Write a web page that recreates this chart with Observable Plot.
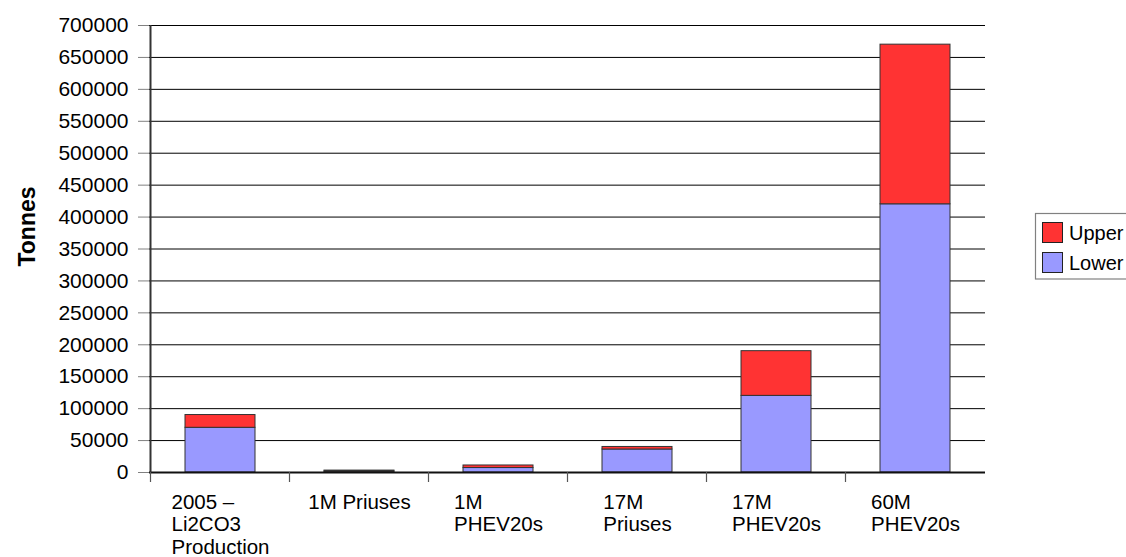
<!DOCTYPE html>
<html><head><meta charset="utf-8">
<script src="https://cdn.jsdelivr.net/npm/d3@7"></script>
<script src="https://cdn.jsdelivr.net/npm/@observablehq/plot@0.6"></script>
<style>body{margin:0;background:#fff;} svg{display:block}</style>
</head><body><div id="chart"></div>
<script>
const categories = ["2005 –\nLi2CO3\nProduction", "1M Priuses", "1M\nPHEV20s", "17M\nPriuses", "17M\nPHEV20s", "60M\nPHEV20s"];
const seriesNames = ["Upper", "Lower"];
const lowerValues = [70000, 1500, 7000, 36000, 120000, 420000];
const upperValues = [20000, 1500, 4000, 4000, 70000, 250000];
const yTicks = d3.range(0, 700001, 50000);
const seriesColors = ["#FF3333", "#9999FF"];
const yLabel = "Tonnes";

const rows = [];
categories.forEach((c, i) => {
  rows.push({category: c, series: "Lower", value: lowerValues[i]});
  rows.push({category: c, series: "Upper", value: upperValues[i]});
});

const font = "'Liberation Sans', Arial, sans-serif";
const plot = Plot.plot({
  width: 1126, height: 557,
  marginLeft: 149, marginRight: 141, marginTop: 25, marginBottom: 85,
  style: {fontFamily: font, fontSize: "21px", color: "#000", background: "#fff"},
  x: {type: "band", domain: categories, paddingInner: 0.5, paddingOuter: 0.25, label: null},
  y: {domain: [0, 700000], label: null},
  color: {domain: seriesNames, range: seriesColors},
  marks: [
    Plot.gridY(yTicks, {stroke: "#000", strokeOpacity: 1, strokeWidth: 1}),
    Plot.barY(rows, {x: "category", y: "value", fill: "series", stroke: "#333", strokeWidth: 1}),
    Plot.ruleY([0], {stroke: "#111", strokeWidth: 2}),
    Plot.axisY(yTicks, {tickSize: 11, tickFormat: () => "", stroke: "#808080", label: null}),
    Plot.axisY(yTicks, {tickSize: 0, tickPadding: 21, tickFormat: d => String(d), fontSize: 21, label: null}),
    Plot.axisX({tickSize: 0, tickPadding: 20, fontSize: 20.5, lineHeight: 1.1, label: null}),
    Plot.text([yLabel], {frameAnchor: "top-left", dx: -122, dy: 201, rotate: -90, textAnchor: "middle", lineAnchor: "middle", fontWeight: "bold", fontSize: 23})
  ]
});
document.getElementById("chart").appendChild(plot);

const svg = d3.select(plot);
const xs = plot.scale("x"), ys = plot.scale("y"), cs = plot.scale("color");
const y0 = ys.apply(0), yTop = ys.apply(700000);
const gap = (xs.step - xs.bandwidth) / 2;
const xLeft = xs.apply(categories[0]) - gap;

// left-align lines within centered blocks for x tick labels
svg.selectAll('g[aria-label="x-axis tick label"] text').each(function() {
  const spans = this.querySelectorAll("tspan");
  if (!spans.length) return;
  let w = 0;
  spans.forEach(s => { w = Math.max(w, s.getComputedTextLength()); });
  this.setAttribute("text-anchor", "start");
  spans.forEach(s => s.setAttribute("x", -w / 2));
});

// category boundary ticks
const g = svg.append("g");
categories.forEach(c => {
  const bx = xs.apply(c) - gap;
  g.append("line").attr("x1", bx).attr("x2", bx).attr("y1", y0).attr("y2", y0 + 10)
    .attr("stroke", "#555").attr("stroke-width", 1.2);
});
// y axis line
g.append("line").attr("x1", xLeft).attr("x2", xLeft).attr("y1", yTop).attr("y2", y0)
  .attr("stroke", "#333").attr("stroke-width", 2);

// legend
const lg = svg.append("g").attr("font-family", font).attr("font-size", 20).attr("text-anchor", "start");
lg.append("rect").attr("x", 1035.5).attr("y", 213.5).attr("width", 120).attr("height", 65.5)
  .attr("fill", "#fff").attr("stroke", "#808080").attr("stroke-width", 1.2);
cs.domain.forEach((name, i) => {
  const yy = 222 + i * 30;
  lg.append("rect").attr("x", 1042.5).attr("y", yy + 0.5).attr("width", 20).attr("height", 20)
    .attr("fill", cs.apply(name)).attr("stroke", "#222").attr("stroke-width", 1);
  lg.append("text").attr("x", 1069).attr("y", yy + 10.5).attr("dy", "0.35em").attr("text-anchor", "start").text(name);
});
</script>
</body></html>
